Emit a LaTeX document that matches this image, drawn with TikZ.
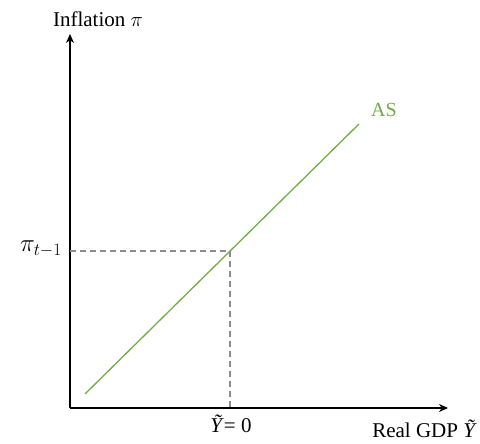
\documentclass[tikz,border=0pt]{standalone}
\usepackage{amsmath}
\usepackage{fontspec}
\setmainfont{Liberation Serif}
\usepackage{tikz}
\usetikzlibrary{arrows.meta,calc,positioning}
\definecolor{asgreen}{RGB}{112,173,71}
\definecolor{guidegray}{RGB}{140,140,140}
\tikzset{
  axis/.style={black, line width=1.6pt, -{Stealth[length=9pt,width=8pt]}},
  curve/.style={asgreen, line width=1.3pt},
  guide/.style={guidegray, line width=1.3pt, dash pattern=on 6pt off 4pt},
  lab/.style={font=\fontsize{21}{25}\selectfont, inner sep=1pt},
}
\begin{document}
\begin{tikzpicture}[x=1pt,y=1pt]
  \path[use as bounding box] (0,0) rectangle (480,444);

  % axes
  \coordinate (O) at (70,36);
  \coordinate (ytop) at (70,410);
  \coordinate (xend) at (448,36);
  \draw[axis] (O) -- (ytop);
  \draw[axis] (O) -- (xend);
  \node[lab] (ylab) at (98,425) {Inflation $\pi$};
  \node[lab, anchor=east] (xlab) at (478,15) {Real GDP \textit{Ỹ}};

  % aggregate supply
  \coordinate (AS0) at (85,50);
  \coordinate (AS1) at (359,320);
  \draw[curve] (AS0) -- (AS1);
  \node[lab, text=asgreen, font=\fontsize{20}{24}\selectfont] (aslab) at (384,334) {AS};

  % guides to the point on AS
  \coordinate (P) at ($(AS0)!{(230-85)/274}!(AS1)$);
  \coordinate (Px) at (P |- O);
  \coordinate (Py) at (P -| O);
  \draw[guide] (Py) -- (P) -- (Px);
  \node[lab, anchor=east, font=\fontsize{25}{29}\selectfont] (pilab) at ($(Py)+(-7,2)$) {$\pi_{t-1}$};
  \node[lab] (ylab0) at ($(Px)+(1,-16)$) {\textit{Ỹ}= 0};
\end{tikzpicture}
\end{document}
